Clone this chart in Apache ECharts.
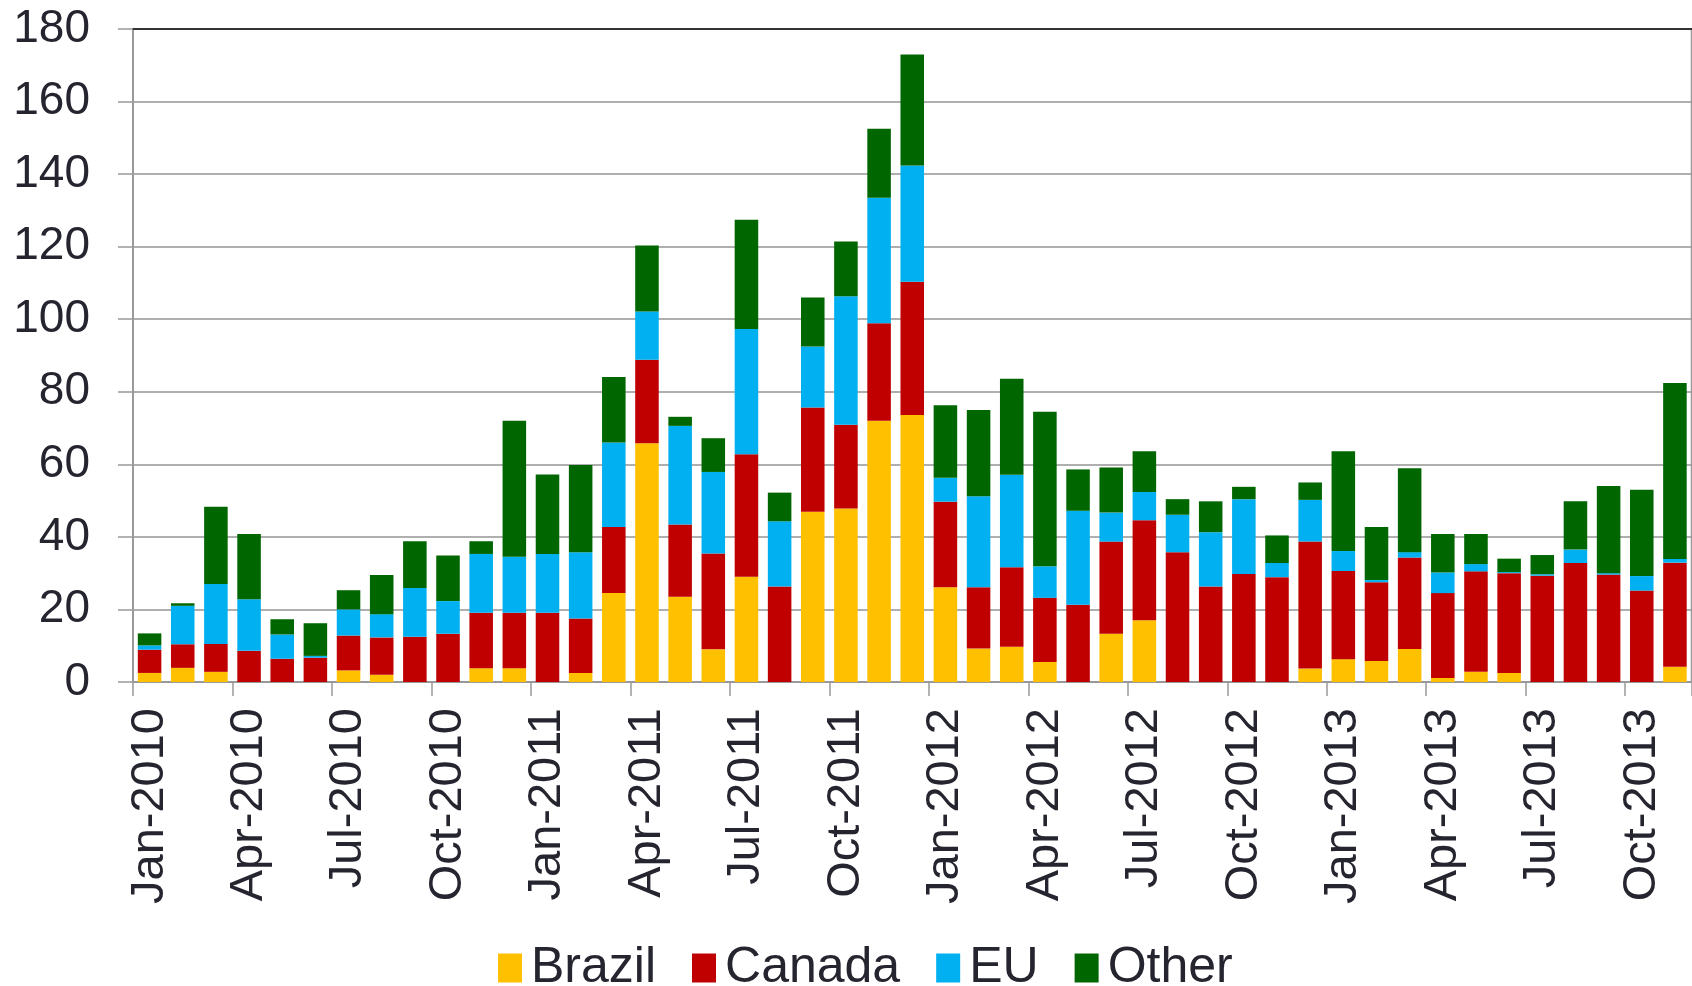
<!DOCTYPE html>
<html>
<head>
<meta charset="utf-8">
<script src="https://cdn.jsdelivr.net/npm/echarts@6/dist/echarts.min.js"></script>
<style>
html,body{margin:0;padding:0;background:#fff;}
#chart{width:1692px;height:986px;}
</style>
</head>
<body>
<div id="chart"></div>
<script>
var categories = [
 'Jan-2010','Feb-2010','Mar-2010','Apr-2010','May-2010','Jun-2010','Jul-2010','Aug-2010','Sep-2010','Oct-2010','Nov-2010','Dec-2010',
 'Jan-2011','Feb-2011','Mar-2011','Apr-2011','May-2011','Jun-2011','Jul-2011','Aug-2011','Sep-2011','Oct-2011','Nov-2011','Dec-2011',
 'Jan-2012','Feb-2012','Mar-2012','Apr-2012','May-2012','Jun-2012','Jul-2012','Aug-2012','Sep-2012','Oct-2012','Nov-2012','Dec-2012',
 'Jan-2013','Feb-2013','Mar-2013','Apr-2013','May-2013','Jun-2013','Jul-2013','Aug-2013','Sep-2013','Oct-2013','Nov-2013'
];
var brazil = [2.5,3.9,2.8,0,0,0,3.2,2.0,0,0,3.8,3.8,
              0,2.5,24.5,65.8,23.5,9.0,29.0,0,46.9,47.8,72.0,73.6,
              26.1,9.2,9.7,5.5,0,13.3,17.0,0,0,0,0,3.7,
              6.3,5.8,9.1,1.1,2.8,2.5,0,0,0,0,4.2];
var canada = [6.4,6.5,7.7,8.6,6.4,6.7,9.6,10.3,12.5,13.3,15.3,15.3,
              19.1,15.0,18.2,23.0,19.9,26.4,33.8,26.3,28.8,23.1,26.9,36.7,
              23.6,16.9,21.9,17.7,21.3,25.4,27.6,35.8,26.3,29.8,28.9,35.0,
              24.3,21.7,25.2,23.4,27.7,27.5,29.3,32.8,29.6,25.2,28.7];
var eu     = [1.2,10.6,16.5,14.2,6.7,0.5,7.2,6.4,13.4,9.0,16.2,15.4,
              16.2,18.3,23.3,13.3,27.2,22.5,34.5,18.0,16.8,35.4,34.6,32.1,
              6.6,25.1,25.5,8.7,25.9,8.0,7.8,10.3,15.0,20.6,3.9,11.5,
              5.5,0.6,1.5,5.7,2.0,0.3,0.4,3.7,0.4,4.0,1.0];
var other  = [3.3,0.7,21.3,18.0,4.2,9.0,5.3,10.8,12.9,12.6,3.5,37.5,
              21.9,24.0,18.1,18.2,2.5,9.3,30.1,7.9,13.5,15.1,19.0,30.6,
              20.0,23.8,26.5,42.6,11.4,12.4,11.2,4.3,8.5,3.4,7.6,4.8,
              27.5,14.6,23.1,10.6,8.3,3.7,5.3,13.3,24.0,23.8,48.5];
var seriesNames = ['Brazil','Canada','EU','Other'];
var seriesData = [brazil, canada, eu, other];
var colors = ['#FFC000','#C00000','#00B0F0','#006600'];

var txt = '#25252f';
var font = "'Liberation Sans', Arial, sans-serif";
var chart = echarts.init(document.getElementById('chart'));
chart.setOption({
  animation:false,
  color: colors,
  grid:{left:133,right:0.5,top:29,bottom:304,show:true,borderColor:'#999',borderWidth:1.5,containLabel:false},
  legend:{
    data: seriesNames, left:498, top:943, padding:0, itemWidth:24, itemHeight:29, itemGap:36,
    icon:'rect',
    textStyle:{fontFamily:font,fontSize:50,color:txt,padding:[0,0,0,4]}
  },
  xAxis:[{
    type:'category', data:categories,
    axisLine:{lineStyle:{color:'#999',width:2}},
    axisTick:{show:true,interval:2,length:14,lineStyle:{color:'#999',width:1.5}},
    axisLabel:{interval:2,rotate:90,margin:26,fontFamily:font,fontSize:47,color:txt}
  },{
    type:'category', data:categories, position:'top',
    axisLine:{lineStyle:{color:'#333',width:2}},
    axisTick:{show:false}, axisLabel:{show:false}
  }],
  yAxis:{
    type:'value', min:0, max:180, interval:20,
    axisLine:{show:true,lineStyle:{color:'#999',width:2}},
    axisTick:{show:true,length:15,lineStyle:{color:'#999',width:1.5}},
    splitLine:{lineStyle:{color:'#949494',width:1.6}},
    axisLabel:{margin:43,fontFamily:font,fontSize:46,color:txt}
  },
  series: seriesNames.map(function(n,i){
    return {name:n,type:'bar',stack:'total',data:seriesData[i],barCategoryGap:'29%',
            itemStyle:{color:colors[i]}};
  })
});
</script>
</body>
</html>
